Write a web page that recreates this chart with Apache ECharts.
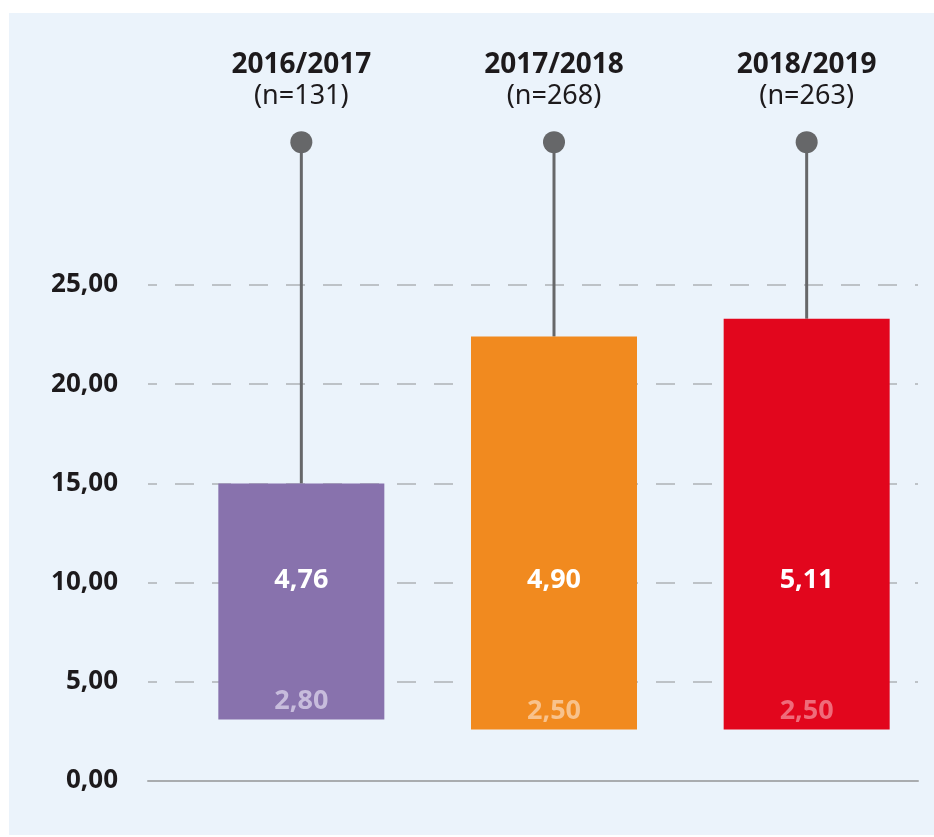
<!DOCTYPE html>
<html lang="de">
<head>
    <meta charset="UTF-8">
    <title>Boxplot</title>
    <script src="https://cdn.jsdelivr.net/npm/echarts@6/dist/echarts.min.js"></script>
</head>
<style type="text/css">
    html,body,#chart{
        width: 100%;
        height: 100%;
        margin: 0;
        padding: 0;
        background: #fff;
    }
</style>
<body>
<div id="chart"></div>
<script>
    var years = ['2016/2017', '2017/2018', '2018/2019'];
    var counts = [131, 268, 263];
    var lowVals = [3.1, 2.6, 2.6];
    var highVals = [15.0, 22.4, 23.3];
    var maxVals = [32.2, 32.2, 32.2];
    var medianLabels = ['4,76', '4,90', '5,11'];
    var lowLabels = ['2,80', '2,50', '2,50'];
    var yTicks = [0, 5, 10, 15, 20, 25];

    var boxColors = ['#8872ad', '#f18a1f', '#e2061d'];
    var lowLabelColors = ['#c7bcdc', '#f8c28c', '#ef6b7a'];
    var font = 'Noto Sans';

    var chart = echarts.init(document.getElementById('chart'));

    var boxData = [];
    for (var i = 0; i < years.length; i++) {
        boxData.push([i, lowVals[i], highVals[i], maxVals[i]]);
    }

    function fmt(v) {
        return v.toFixed(2).replace('.', ',');
    }

    var option = {
        animation: false,
        graphic: [{
            type: 'rect',
            z: -10,
            shape: {x: 9, y: 13, width: 925, height: 822},
            style: {fill: '#ebf3fb'}
        }],
        grid: [
            {left: 148, right: 16, top: 285, bottom: 56},
            {left: 175, right: 1, top: 285, bottom: 56}
        ],
        xAxis: [{
            gridIndex: 0,
            type: 'value',
            min: 0,
            max: 1,
            position: 'bottom',
            axisLine: {show: true, lineStyle: {color: '#a9acaf', width: 2}},
            axisTick: {show: false},
            axisLabel: {show: false},
            splitLine: {show: false}
        }, {
            gridIndex: 1,
            type: 'category',
            position: 'top',
            data: years,
            axisLine: {show: false},
            axisTick: {show: false},
            axisLabel: {
                margin: 173,
                interval: 0,
                formatter: function (v, idx) {
                    return '{y|' + v + '}\n{n|(n=' + counts[idx] + ')}';
                },
                rich: {
                    y: {fontFamily: font, fontWeight: 'bold', fontSize: 28, color: '#1d1a1c', lineHeight: 31, align: 'center'},
                    n: {fontFamily: font, fontSize: 27, color: '#1d1a1c', lineHeight: 31, align: 'center'}
                }
            }
        }],
        yAxis: [{
            gridIndex: 0,
            type: 'value',
            min: 0,
            max: 25,
            interval: 5,
            axisLine: {show: false},
            axisTick: {show: false},
            axisLabel: {
                margin: 30,
                fontFamily: font,
                fontWeight: 'bold',
                fontSize: 26,
                color: '#1d1a1c',
                formatter: function (v) {
                    return yTicks.indexOf(v) >= 0 ? fmt(v) : '';
                }
            },
            splitLine: {
                show: true,
                lineStyle: {color: '#aeb2b6', width: 1.5, type: [19, 18], dashOffset: 10}
            }
        }, {
            gridIndex: 1,
            type: 'value',
            min: 0,
            max: 25,
            show: false
        }],
        series: [{
            type: 'custom',
            xAxisIndex: 1,
            yAxisIndex: 1,
            clip: false,
            data: boxData,
            renderItem: function (params, api) {
                var idx = api.value(0);
                var lo = api.coord([idx, api.value(1)]);
                var hi = api.coord([idx, api.value(2)]);
                var mx = api.coord([idx, api.value(3)]);
                var mid = api.coord([idx, 10.1]);
                var w = api.size([1, 0])[0] * 0.657;
                var x = lo[0];
                return {
                    type: 'group',
                    children: [{
                        type: 'line',
                        shape: {x1: x, y1: hi[1], x2: x, y2: mx[1]},
                        style: {stroke: '#666769', lineWidth: 3}
                    }, {
                        type: 'circle',
                        shape: {cx: x, cy: mx[1], r: 11},
                        style: {fill: '#666769'}
                    }, {
                        type: 'rect',
                        shape: {x: x - w / 2, y: hi[1], width: w, height: lo[1] - hi[1]},
                        style: {fill: boxColors[idx]}
                    }, {
                        type: 'text',
                        style: {
                            x: x, y: mid[1],
                            text: medianLabels[idx],
                            fill: '#ffffff',
                            font: 'bold 27px "' + font + '"',
                            align: 'center',
                            verticalAlign: 'middle'
                        }
                    }, {
                        type: 'text',
                        style: {
                            x: x, y: lo[1] - 18,
                            text: lowLabels[idx],
                            fill: lowLabelColors[idx],
                            font: 'bold 27px "' + font + '"',
                            align: 'center',
                            verticalAlign: 'middle'
                        }
                    }]
                };
            }
        }]
    };
    chart.setOption(option);
</script>
</body>
</html>
